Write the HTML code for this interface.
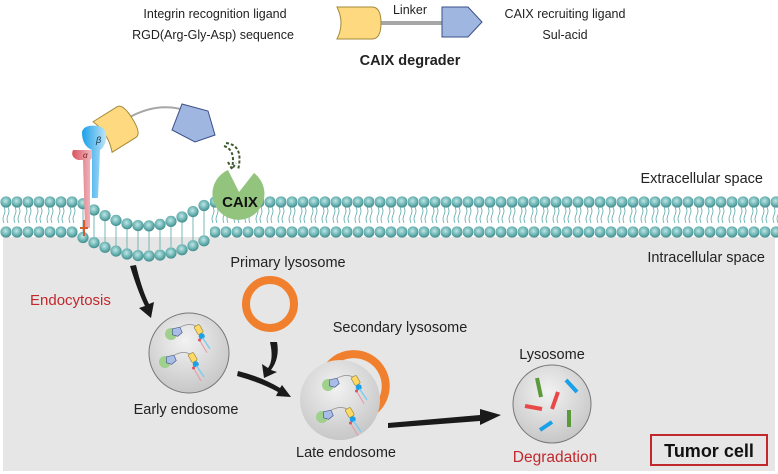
<!DOCTYPE html>
<html><head><meta charset="utf-8"><style>
html,body{margin:0;padding:0;background:#fff;}
svg{display:block;font-family:"Liberation Sans",Arial,sans-serif;}
</style></head><body>
<svg width="778" height="474" viewBox="0 0 778 474" xmlns="http://www.w3.org/2000/svg">
<defs>
<radialGradient id="bead" cx="0.45" cy="0.4" r="0.6"><stop offset="0" stop-color="#bfe6e6"/><stop offset="0.6" stop-color="#6fb5b5"/><stop offset="1" stop-color="#3f8c8c"/></radialGradient>
<radialGradient id="ves" cx="0.45" cy="0.35" r="0.7"><stop offset="0" stop-color="#f2f2f2"/><stop offset="1" stop-color="#c4c4c4"/></radialGradient>
<linearGradient id="blue" x1="0" y1="0" x2="1" y2="0"><stop offset="0" stop-color="#1aa0e8"/><stop offset="1" stop-color="#bfe4f8"/></linearGradient>
<linearGradient id="red" x1="0" y1="0" x2="1" y2="0"><stop offset="0" stop-color="#d9535f"/><stop offset="1" stop-color="#f4c6cc"/></linearGradient>
<pattern id="mem" patternUnits="userSpaceOnUse" x="0" y="196" width="11" height="42">
<path d="M4,11 q2,4 0,8 q-2,4 0,8 M8,11 q2,4 0,8 q-2,4 0,8" fill="none" stroke="#5aa8a8" stroke-width="0.8"/>
<circle cx="6" cy="6" r="5.6" fill="url(#bead)"/>
<circle cx="6" cy="36" r="5.6" fill="url(#bead)"/>
</pattern>
<g id="mini">
<circle cx="0" cy="0" r="8" fill="#9fd08c"/>
<path d="M2,-7 L12,-9 L15,-2 L9,3 L2,1 z" fill="#a9bde6" stroke="#3b4f8a" stroke-width="0.8"/>
<path d="M12,-9 Q25,-16 34,-10" fill="none" stroke="#999" stroke-width="1.2"/>
<rect x="33" y="-12" width="8" height="12" rx="2" fill="#ffd966" stroke="#8a7a2a" stroke-width="0.8" transform="rotate(-30 37 -6)"/>
<circle cx="41" cy="3" r="4" fill="#1aa0e8"/>
<line x1="42" y1="5" x2="52" y2="20" stroke="#7fcbef" stroke-width="2"/>
<line x1="38" y1="8" x2="48" y2="25" stroke="#e89aa4" stroke-width="1.5"/>
<circle cx="38" cy="8" r="2" fill="#d9535f"/>
</g>
</defs>
<rect x="0" y="0" width="778" height="474" fill="#fff"/>
<path d="M3,237 L775,237 L775,471 L3,471 z" fill="#e6e6e6"/>
<path d="M75,232 Q140,290 215,232 L215,237 L75,237 z" fill="#e6e6e6"/>

<rect x="0" y="196" width="78" height="42" fill="url(#mem)"/>
<rect x="210" y="196" width="568" height="42" fill="url(#mem)"/>
<g fill="none" stroke="#5aa8a8" stroke-width="0.8">
<path d="M83,209 L83,232 M94,215 L94,237 M105,221 L105,242 M116,226 L116,246 M127,229 L127,249 M138,231 L138,250 M149,231 L149,250 M160,230 L160,249 M171,227 L171,247 M182,222 L182,244 M193,217 L193,240 M204,211 L204,235"/>
</g>
<g fill="url(#bead)">
<circle cx="83" cy="203.7" r="5.6"/><circle cx="94" cy="210" r="5.6"/><circle cx="105" cy="215.6" r="5.6"/><circle cx="116" cy="220.4" r="5.6"/><circle cx="127" cy="223.8" r="5.6"/><circle cx="138" cy="225.6" r="5.6"/><circle cx="149" cy="225.9" r="5.6"/><circle cx="160" cy="224.4" r="5.6"/><circle cx="171" cy="221.4" r="5.6"/><circle cx="182" cy="217" r="5.6"/><circle cx="193" cy="211.6" r="5.6"/><circle cx="204" cy="205.5" r="5.6"/>
<circle cx="83" cy="237.5" r="5.6"/><circle cx="94" cy="242.7" r="5.6"/><circle cx="105" cy="247.3" r="5.6"/><circle cx="116" cy="251.1" r="5.6"/><circle cx="127" cy="254" r="5.6"/><circle cx="138" cy="255.6" r="5.6"/><circle cx="149" cy="256" r="5.6"/><circle cx="160" cy="255.1" r="5.6"/><circle cx="171" cy="253" r="5.6"/><circle cx="182" cy="249.8" r="5.6"/><circle cx="193" cy="245.7" r="5.6"/><circle cx="204" cy="240.8" r="5.6"/>
</g>

<g font-size="12.5" fill="#222" text-anchor="middle">
<text x="215" y="18">Integrin recognition ligand</text>
<text x="213" y="39">RGD(Arg-Gly-Asp) sequence</text>
<text x="410" y="14">Linker</text>
<text x="565" y="18">CAIX recruiting ligand</text>
<text x="565" y="39">Sul-acid</text>
<text x="410" y="65" font-weight="bold" font-size="14.5">CAIX degrader</text>
</g>
<line x1="378" y1="23" x2="442" y2="23" stroke="#a6a6a6" stroke-width="4"/>
<path d="M337,7 L372,7 Q381,7 381,23 Q381,39 372,39 L337,39 Q345,23 337,7 z" fill="#ffd97f" stroke="#a08a3a" stroke-width="1"/>
<path d="M442,7 L468,7 L482,22 L468,37 L442,37 z" fill="#9fb6e0" stroke="#3b4f8a" stroke-width="1"/>

<path d="M128,118 Q160,100 190,112" fill="none" stroke="#a6a6a6" stroke-width="2"/>
<g transform="rotate(-32 117 128)"><path d="M100,110 L128,110 Q135,110 135,128 Q135,146 128,146 L100,146 Q107,128 100,110 z" fill="#ffd97f" stroke="#a08a3a" stroke-width="1"/></g>
<path d="M172,130 L182,104 L208,111 L215,135 L195,142 z" fill="#9fb6e0" stroke="#3b4f8a" stroke-width="1"/>
<path d="M73,150 Q70,157 78,160 L83,160 L85,228 L90,228 L90,160 Q97,155 92,150 Z" fill="url(#red)"/>
<text x="83" y="158" font-size="8" fill="#722" font-style="italic">α</text>
<path d="M82,132 Q84,124 98,126 Q108,128 106,140 Q104,148 100,150 L98,198 L92,198 L92,150 Q82,146 82,132 Z" fill="url(#blue)"/>
<text x="96" y="143" font-size="9" fill="#134" font-style="italic">β</text>
<path d="M84,220 L84,236 M80,228 L88,228" stroke="#d85a2a" stroke-width="2"/>
<path d="M224,146 Q236,150 232,168 M228,162 L232,169 L236,163" fill="none" stroke="#3d5a2d" stroke-width="2" stroke-dasharray="3,2"/>
<path d="M226,143 Q244,145 238,170" fill="none" stroke="#3d5a2d" stroke-width="2" stroke-dasharray="3,2"/>
<path d="M228,170 L239,192 L254,173 A26,26 0 1 1 228,170 Z" fill="#93c47d"/>
<text x="240" y="207" font-size="15" font-weight="bold" fill="#111" text-anchor="middle">CAIX</text>

<g font-size="14.5" fill="#222">
<text x="763" y="183" text-anchor="end">Extracellular space</text>
<text x="765" y="262" text-anchor="end">Intracellular space</text>
<text x="288" y="267" text-anchor="middle">Primary lysosome</text>
<text x="400" y="332" text-anchor="middle">Secondary lysosome</text>
<text x="186" y="414" text-anchor="middle">Early endosome</text>
<text x="346" y="457" text-anchor="middle">Late endosome</text>
<text x="552" y="359" text-anchor="middle">Lysosome</text>
</g>
<text x="30" y="305" font-size="15" fill="#c0282d">Endocytosis</text>
<text x="555" y="462" font-size="15.5" fill="#c0282d" text-anchor="middle">Degradation</text>
<rect x="651" y="435" width="116" height="30" fill="none" stroke="#c0282d" stroke-width="2"/>
<text x="709" y="457" font-size="18" font-weight="bold" fill="#111" text-anchor="middle">Tumor cell</text>

<g fill="#1a1a1a">
<path d="M130,266 Q138,292 145,306 L139,308 L151,318 L154,302 L149,304 Q142,290 136,265 Z"/>
<path d="M270,342 Q274,360 268,368 L262,364 L264,378 L277,372 L271,370 Q280,358 277,342 Z"/>
<path d="M237,376 Q262,383 278,392 L276,396 L291,397 L282,385 L280,388 Q262,377 238,371 Z"/>
<path d="M388,423 L480,415 L480,409 L501,415 L480,425 L480,421 L388,428 Z"/>
</g>
<circle cx="270" cy="304" r="24" fill="none" stroke="#f0802e" stroke-width="8"/>
<circle cx="189" cy="353" r="40" fill="url(#ves)" stroke="#777" stroke-width="1"/>
<use href="#mini" transform="translate(171,334) scale(0.75)"/>
<use href="#mini" transform="translate(165,362) scale(0.75)"/>
<path d="M325,372 A32,32 0 1 1 375,410" fill="none" stroke="#f0802e" stroke-width="8"/>
<circle cx="340" cy="400" r="40" fill="url(#ves)"/>
<use href="#mini" transform="translate(328,385) scale(0.75)"/>
<use href="#mini" transform="translate(322,417) scale(0.75)"/>
<circle cx="552" cy="404" r="39" fill="url(#ves)" stroke="#777" stroke-width="1"/>
<g stroke-width="4">
<line x1="537" y1="378" x2="541" y2="397" stroke="#5a9a3a"/>
<line x1="566" y1="380" x2="577" y2="392" stroke="#1aa0e8"/>
<line x1="558" y1="392" x2="552" y2="409" stroke="#e84848"/>
<line x1="525" y1="406" x2="542" y2="409" stroke="#e84848"/>
<line x1="569" y1="410" x2="569" y2="427" stroke="#5a9a3a"/>
<line x1="540" y1="430" x2="552" y2="422" stroke="#1aa0e8"/>
</g>
</svg>
</body></html>
